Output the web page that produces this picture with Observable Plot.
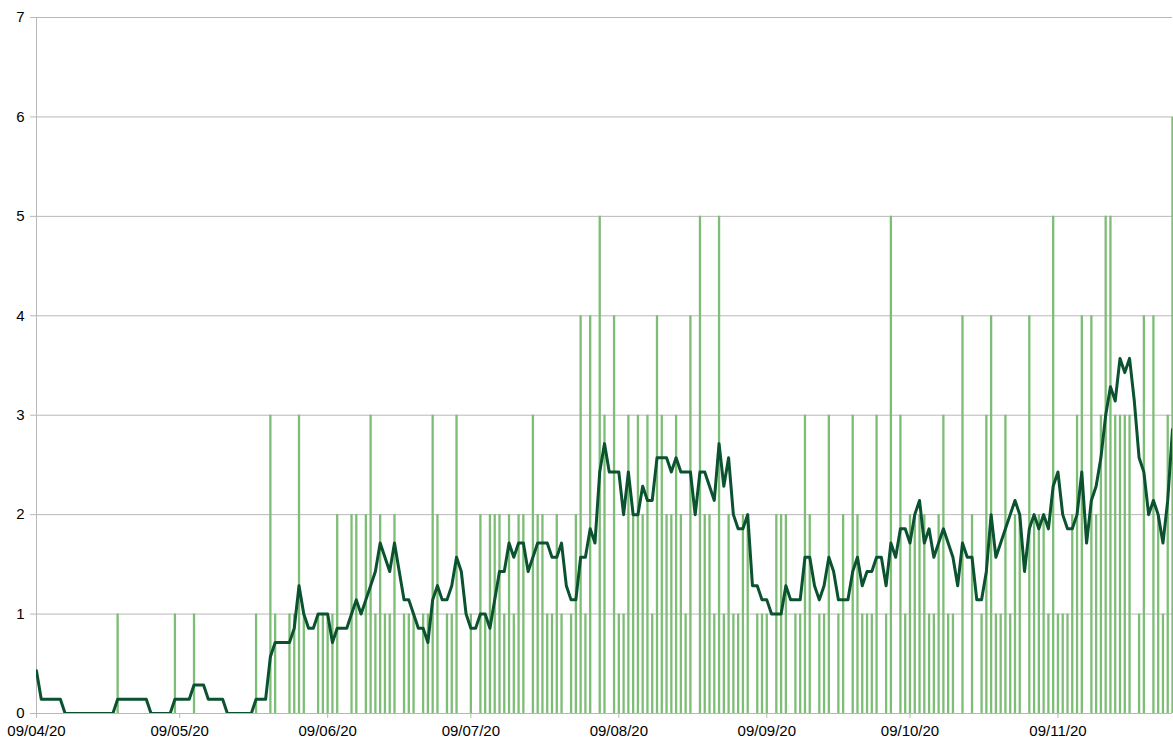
<!DOCTYPE html>
<html>
<head>
<meta charset="utf-8">
<script src="https://cdn.jsdelivr.net/npm/d3@7"></script>
<script src="https://cdn.jsdelivr.net/npm/@observablehq/plot@0.6"></script>
<style>
  html, body { margin: 0; padding: 0; background: #ffffff; }
  #chart svg { display: block; }
</style>
</head>
<body>
<div id="chart"></div>
<script>
// ---- data ----
const startDate = "2020-04-09";
// counts of the six days before 09/04/20 (not drawn as bars, they only feed the 7‑day average)
const priorCounts = [2, 0, 0, 0, 0, 1];
// daily counts from 09/04/20 to 03/12/20
const dailyCounts = [
  0,0,0,0,0,0,0,0,0,0,
  0,0,0,0,0,0,0,1,0,0,
  0,0,0,0,0,0,0,0,0,1,
  0,0,0,1,0,0,0,0,0,0,
  0,0,0,0,0,0,1,0,0,3,
  1,0,0,1,1,3,1,0,0,1,
  1,1,1,2,0,0,2,2,0,2,
  3,1,2,1,1,2,0,1,1,1,
  0,1,1,3,2,0,1,1,3,0,
  0,1,0,2,1,2,2,2,1,2,
  1,2,2,0,3,2,2,1,1,2,
  1,0,1,2,4,1,4,0,5,3,
  0,4,1,1,3,2,3,2,3,1,
  4,3,2,2,3,2,1,4,0,5,
  2,2,1,5,1,2,1,1,2,2,
  0,1,1,1,0,2,2,2,0,1,
  1,3,2,0,1,1,3,0,1,2,
  0,3,2,1,1,1,3,0,1,5,
  0,3,1,2,2,2,2,1,1,2,
  3,1,1,0,4,0,2,0,1,3,
  4,1,1,3,1,2,2,0,4,2,
  2,2,1,5,1,1,1,2,3,4,
  0,4,2,3,5,5,3,3,3,3,
  0,1,4,0,4,2,1,3,6
];
const tickDates = ["2020-04-09","2020-05-09","2020-06-09","2020-07-09","2020-08-09","2020-09-09","2020-10-09","2020-11-09"];
const yTicks = [0, 1, 2, 3, 4, 5, 6, 7];

// ---- build tables ----
const start = new Date(startDate + "T00:00:00Z");
const end = d3.utcDay.offset(start, dailyCounts.length - 1);
const daily = dailyCounts.map((v, i) => ({date: d3.utcDay.offset(start, i), value: v}));
const series = priorCounts.concat(dailyCounts).map((v, i) => ({
  date: d3.utcDay.offset(start, i - priorCounts.length), value: v
}));
const xTicks = tickDates.map(s => new Date(s + "T00:00:00Z"));
const fmt = d3.utcFormat("%d/%m/%y");

const gridColor = "#b8b8b8";

const chart = Plot.plot({
  width: 1173,
  height: 739,
  marginLeft: 36,
  marginRight: 1,
  marginTop: 17,
  marginBottom: 26,
  style: {fontFamily: "'Liberation Sans', Arial, sans-serif", fontSize: "15px", color: "#000", background: "#ffffff"},
  x: {type: "utc", domain: [start, end], label: null},
  y: {domain: [0, 7], label: null},
  marks: [
    Plot.gridY({ticks: yTicks, stroke: gridColor, strokeOpacity: 1}),
    Plot.ruleX([start], {stroke: gridColor, strokeOpacity: 1}),
    Plot.ruleX(daily, {x: "date", y: "value", stroke: "#7dbd76", strokeWidth: 2.3}),
    Plot.lineY(series, Plot.windowY(
      {k: 7, anchor: "end", strict: true, reduce: "mean"},
      {x: "date", y: "value", stroke: "#0b5230", strokeWidth: 3, strokeLinejoin: "round", clip: true}
    )),
    Plot.axisY({ticks: yTicks, tickFormat: "d", tickSize: 6, tickPadding: 6, stroke: gridColor, fill: "#000", label: null}),
    Plot.axisX({ticks: xTicks, tickFormat: fmt, tickSize: 5, tickPadding: 7, stroke: gridColor, fill: "#000", label: null})
  ]
});
document.getElementById("chart").appendChild(chart);
</script>
</body>
</html>
